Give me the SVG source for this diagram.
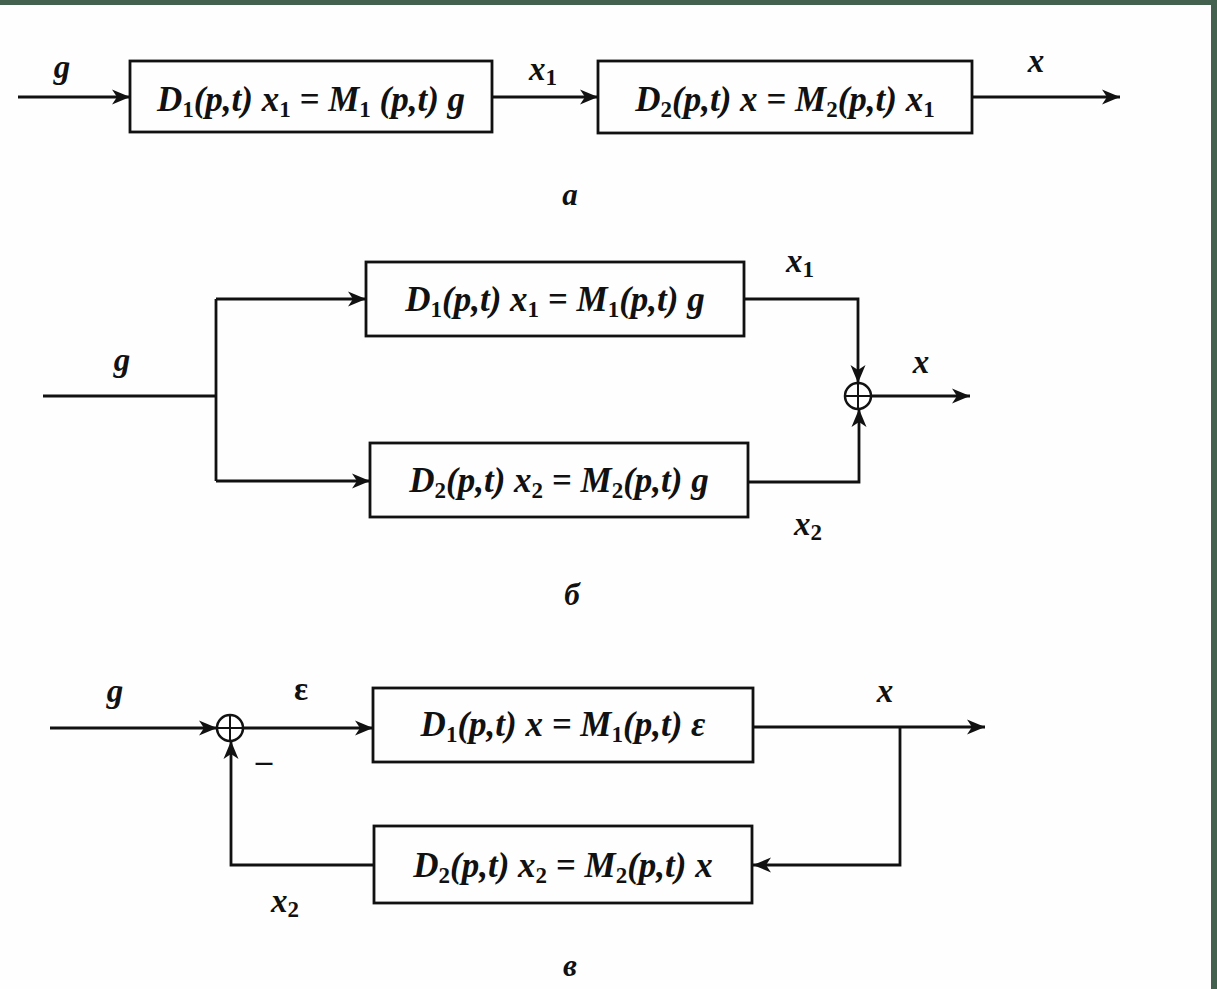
<svg xmlns="http://www.w3.org/2000/svg" width="1217" height="989" viewBox="0 0 1217 989">
<style>
.box{fill:none;stroke:#111;stroke-width:2.8}
.ln{fill:none;stroke:#111;stroke-width:2.8}
.eq{font-family:"Liberation Serif",serif;font-weight:bold;font-style:italic;font-size:35px;fill:#111}
.lb{font-family:"Liberation Serif",serif;font-weight:bold;font-style:italic;font-size:33px;fill:#111}
.sub{font-style:normal;font-size:23px}
.cap{font-family:"Liberation Serif",serif;font-weight:bold;font-style:italic;font-size:31px;fill:#111}
</style>
<defs>
<marker id="ar" markerUnits="userSpaceOnUse" markerWidth="22" markerHeight="18" refX="18" refY="9" orient="auto">
<path d="M0,1.5 L18,9 L0,16.5 L5,9 z" fill="#111"/>
</marker>
</defs>
<rect width="1217" height="989" fill="#fefefe"/>
<rect x="0" y="0" width="1217" height="5" fill="#44604f"/>
<rect x="1211" y="0" width="6" height="989" fill="#44604f"/>

<g id="connectors">
<!-- a -->
<path class="ln" d="M18,97 H130" marker-end="url(#ar)"/>
<path class="ln" d="M492,97 H598" marker-end="url(#ar)"/>
<path class="ln" d="M972,97 H1120" marker-end="url(#ar)"/>
<!-- b -->
<path class="ln" d="M43,396 H216"/>
<path class="ln" d="M216,299 V481"/>
<path class="ln" d="M216,299 H366" marker-end="url(#ar)"/>
<path class="ln" d="M216,481 H370" marker-end="url(#ar)"/>
<path class="ln" d="M744,299 H858 V383" marker-end="url(#ar)"/>
<path class="ln" d="M748,482 H859 V409" marker-end="url(#ar)"/>
<path class="ln" d="M871,396 H970" marker-end="url(#ar)"/>
<!-- c -->
<path class="ln" d="M50,728 H217" marker-end="url(#ar)"/>
<path class="ln" d="M243,728 H373" marker-end="url(#ar)"/>
<path class="ln" d="M753,727 H985" marker-end="url(#ar)"/>
<path class="ln" d="M900,727 V865 H753" marker-end="url(#ar)"/>
<path class="ln" d="M374,865 H231 V741" marker-end="url(#ar)"/>
</g>

<g id="a-block1">
<rect class="box" x="130" y="61" width="362" height="71"/>
<text class="eq" x="311" y="111" text-anchor="middle">D<tspan class="sub" dy="6">1</tspan><tspan dy="-6">(p,t) x</tspan><tspan class="sub" dy="6">1</tspan><tspan dy="-6"> = M</tspan><tspan class="sub" dy="6">1</tspan><tspan dy="-6"> (p,t) g</tspan></text>
</g>
<g id="a-block2">
<rect class="box" x="598" y="61" width="374" height="72"/>
<text class="eq" x="785" y="111" text-anchor="middle">D<tspan class="sub" dy="6">2</tspan><tspan dy="-6">(p,t) x = M</tspan><tspan class="sub" dy="6">2</tspan><tspan dy="-6">(p,t) x</tspan><tspan class="sub" dy="6">1</tspan></text>
</g>
<g id="a-labels">
<text class="lb" x="62" y="78" text-anchor="middle">g</text>
<text class="lb" x="543" y="80" text-anchor="middle">x<tspan class="sub" dy="5">1</tspan></text>
<text class="lb" x="1036" y="72" text-anchor="middle">x</text>
<text class="cap" x="570" y="205" text-anchor="middle">а</text>
</g>

<g id="b-block1">
<rect class="box" x="366" y="262" width="378" height="74"/>
<text class="eq" x="555" y="311" text-anchor="middle">D<tspan class="sub" dy="6">1</tspan><tspan dy="-6">(p,t) x</tspan><tspan class="sub" dy="6">1</tspan><tspan dy="-6"> = M</tspan><tspan class="sub" dy="6">1</tspan><tspan dy="-6">(p,t) g</tspan></text>
</g>
<g id="b-block2">
<rect class="box" x="370" y="443" width="378" height="74"/>
<text class="eq" x="559" y="492" text-anchor="middle">D<tspan class="sub" dy="6">2</tspan><tspan dy="-6">(p,t) x</tspan><tspan class="sub" dy="6">2</tspan><tspan dy="-6"> = M</tspan><tspan class="sub" dy="6">2</tspan><tspan dy="-6">(p,t) g</tspan></text>
</g>
<g id="b-sum">
<circle cx="858" cy="396" r="13" fill="none" stroke="#111" stroke-width="2.5"/>
<path d="M845,396 H871 M858,383 V409" stroke="#111" stroke-width="2"/>
</g>
<g id="b-labels">
<text class="lb" x="122" y="371" text-anchor="middle">g</text>
<text class="lb" x="800" y="272" text-anchor="middle">x<tspan class="sub" dy="5">1</tspan></text>
<text class="lb" x="921" y="373" text-anchor="middle">x</text>
<text class="lb" x="808" y="535" text-anchor="middle">x<tspan class="sub" dy="5">2</tspan></text>
<text class="cap" x="572" y="605" text-anchor="middle">б</text>
</g>

<g id="c-sum">
<circle cx="230" cy="728" r="13" fill="none" stroke="#111" stroke-width="2.5"/>
<path d="M217,728 H243 M230,715 V741" stroke="#111" stroke-width="2"/>
</g>
<g id="c-block1">
<rect class="box" x="373" y="688" width="380" height="74"/>
<text class="eq" x="563" y="736" text-anchor="middle">D<tspan class="sub" dy="6">1</tspan><tspan dy="-6">(p,t) x = M</tspan><tspan class="sub" dy="6">1</tspan><tspan dy="-6">(p,t) ε</tspan></text>
</g>
<g id="c-block2">
<rect class="box" x="374" y="826" width="378" height="77"/>
<text class="eq" x="563" y="877" text-anchor="middle">D<tspan class="sub" dy="6">2</tspan><tspan dy="-6">(p,t) x</tspan><tspan class="sub" dy="6">2</tspan><tspan dy="-6"> = M</tspan><tspan class="sub" dy="6">2</tspan><tspan dy="-6">(p,t) x</tspan></text>
</g>
<g id="c-labels">
<text class="lb" x="115" y="702" text-anchor="middle">g</text>
<text class="lb" x="301" y="700" text-anchor="middle" style="font-style:normal">ε</text>
<text class="lb" x="885" y="702" text-anchor="middle">x</text>
<text class="lb" x="264" y="772" text-anchor="middle" style="font-style:normal">–</text>
<text class="lb" x="285" y="912" text-anchor="middle">x<tspan class="sub" dy="5">2</tspan></text>
<text class="cap" x="570" y="976" text-anchor="middle">в</text>
</g>
</svg>
